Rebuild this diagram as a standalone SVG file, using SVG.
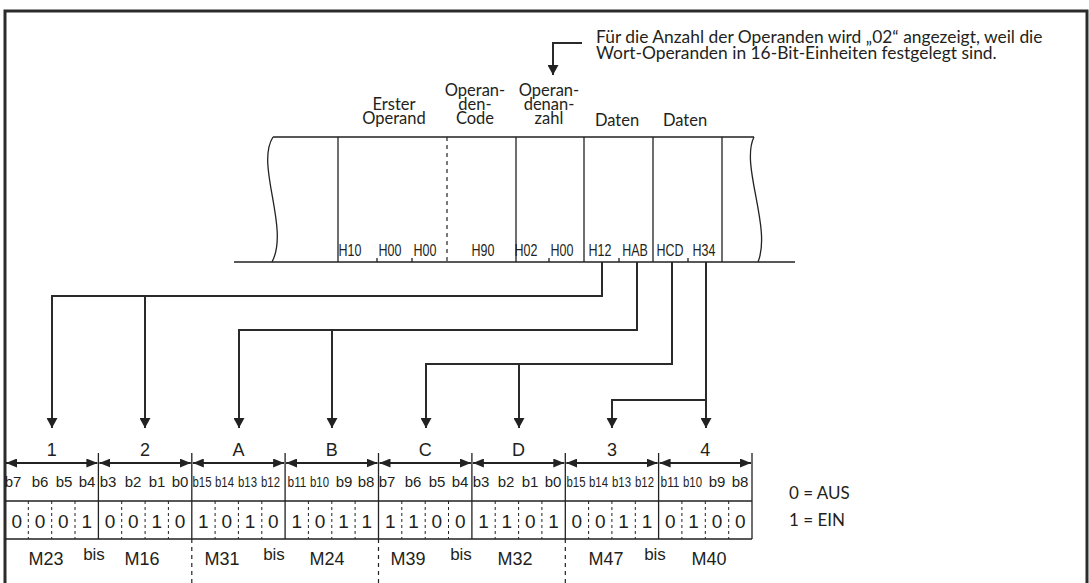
<svg xmlns="http://www.w3.org/2000/svg" width="1089" height="583" viewBox="0 0 1089 583">
<style>
.ln{fill:none;stroke:#222;stroke-width:1.3}
.cn{fill:none;stroke:#2a2a2a;stroke-width:2}
.dash{fill:none;stroke:#222;stroke-width:1.2;stroke-dasharray:4 4}
.my{font-family:Lato,"Open Sans","Liberation Sans",sans-serif;fill:#231f20}
.hv{font-family:"Liberation Sans",Arial,sans-serif;fill:#231f20}
.c{text-anchor:middle}
.h{font-size:16px}
.bit{font-size:15px}
.val{font-size:19px}
.seg{font-size:18px}
.m{font-size:18px}
</style>
<defs>
<marker id="ah" viewBox="0 0 10 10" refX="10" refY="5" markerWidth="10" markerHeight="11" markerUnits="userSpaceOnUse" orient="auto" preserveAspectRatio="none">
<path d="M0,0 L10,5 L0,10 z" fill="#222"/>
</marker>
<marker id="dh" viewBox="0 0 10 10" refX="10" refY="5" markerWidth="11" markerHeight="9" markerUnits="userSpaceOnUse" orient="auto-start-reverse" preserveAspectRatio="none">
<path d="M0,0 L10,5 L0,10 z" fill="#222"/>
</marker>
</defs>
<rect width="1089" height="583" fill="#fff"/>
<path d="M5,590 V11 H1087 V590" fill="none" stroke="#2b2b2b" stroke-width="3"/>

<g id="note">
<text class="my" x="596" y="43" font-size="17.4">Für die Anzahl der Operanden wird „02“ angezeigt, weil die</text>
<text class="my" x="596" y="59" font-size="17.4">Wort-Operanden in 16-Bit-Einheiten festgelegt sind.</text>
</g>

<g id="header">
<path class="ln" d="M273,137 H754 M234,262 H795"/>
<path class="ln" d="M273,137 C255,165 290,228 272,262"/>
<path class="ln" d="M754,137 C740,165 772,228 758,262"/>
<path class="ln" d="M338,137 V262 M516,137 V262 M584,137 V262 M653,137 V262 M722,137 V262"/>
<path class="dash" d="M447,137 V262"/>
<path class="ln" d="M377,262 V258 M412,262 V258 M549,262 V258 M619,262 V258 M688,262 V258"/>
<g class="my c" font-size="16.5">
<text x="394" y="110">Erster</text>
<text x="394" y="124">Operand</text>
<text x="475" y="96">Operan-</text>
<text x="475" y="110">den-</text>
<text x="475" y="124">Code</text>
<text x="549" y="96">Operan-</text>
<text x="549" y="110">denan-</text>
<text x="549" y="124">zahl</text>
<text x="617" y="126">Daten</text>
<text x="685" y="126">Daten</text>
</g>
<g class="hv h c">
<text transform="translate(350,256) scale(0.78,1)">H10</text>
<text transform="translate(390,256) scale(0.78,1)">H00</text>
<text transform="translate(425,256) scale(0.78,1)">H00</text>
<text transform="translate(483,256) scale(0.78,1)">H90</text>
<text transform="translate(526,256) scale(0.78,1)">H02</text>
<text transform="translate(562,256) scale(0.78,1)">H00</text>
<text transform="translate(600,256) scale(0.78,1)">H12</text>
<text transform="translate(635,256) scale(0.78,1)">HAB</text>
<text transform="translate(670,256) scale(0.78,1)">HCD</text>
<text transform="translate(704,256) scale(0.78,1)">H34</text>
</g>
</g>

<g id="connectors">
<path class="cn" d="M582,43 H553 V75" marker-end="url(#ah)"/>
<path class="cn" d="M602,262 V296 H52 V428" marker-end="url(#ah)"/>
<path class="cn" d="M145,296 V428" marker-end="url(#ah)"/>
<path class="cn" d="M637,262 V330 H239 V428" marker-end="url(#ah)"/>
<path class="cn" d="M332,330 V428" marker-end="url(#ah)"/>
<path class="cn" d="M672,262 V364 H426 V428" marker-end="url(#ah)"/>
<path class="cn" d="M519,364 V428" marker-end="url(#ah)"/>
<path class="cn" d="M706,262 V428" marker-end="url(#ah)"/>
<path class="cn" d="M706,400 H612 V428" marker-end="url(#ah)"/>
</g>

<g id="table">
<path class="ln" d="M5,501 H752 M5,539 H752"/>
<path class="ln" d="M98.4,453 V539 M191.8,453 V539 M285.1,453 V539 M378.5,453 V539 M471.9,453 V539 M565.3,453 V539 M658.6,453 V539 M752,453 V539"/>
<g stroke="#222" stroke-width="2" fill="none">
<path d="M6,463 H97.4" marker-start="url(#dh)" marker-end="url(#dh)"/>
<path d="M99.4,463 H190.8" marker-start="url(#dh)" marker-end="url(#dh)"/>
<path d="M192.8,463 H284.1" marker-start="url(#dh)" marker-end="url(#dh)"/>
<path d="M286.1,463 H377.5" marker-start="url(#dh)" marker-end="url(#dh)"/>
<path d="M379.5,463 H470.9" marker-start="url(#dh)" marker-end="url(#dh)"/>
<path d="M472.9,463 H564.3" marker-start="url(#dh)" marker-end="url(#dh)"/>
<path d="M566.3,463 H657.6" marker-start="url(#dh)" marker-end="url(#dh)"/>
<path d="M659.6,463 H751" marker-start="url(#dh)" marker-end="url(#dh)"/>
</g>
<path fill="none" stroke="#222" stroke-width="1" stroke-dasharray="3 3" d="M28.3,501 V539 M51.7,501 V539 M75,501 V539 M121.7,501 V539 M145.1,501 V539 M168.4,501 V539 M215.1,501 V539 M238.4,501 V539 M261.8,501 V539 M308.4,501 V539 M331.8,501 V539 M355.1,501 V539 M401.8,501 V539 M425.2,501 V539 M448.5,501 V539 M495.2,501 V539 M518.6,501 V539 M541.9,501 V539 M588.6,501 V539 M611.9,501 V539 M635.3,501 V539 M681.9,501 V539 M705.3,501 V539 M728.7,501 V539"/>
<path class="dash" d="M191.8,539 V583 M378.5,539 V583 M565.3,539 V583"/>
<g class="hv seg c">
<text x="51.7" y="456">1</text>
<text x="145.1" y="456">2</text>
<text x="238.4" y="456">A</text>
<text x="331.8" y="456">B</text>
<text x="425.2" y="456">C</text>
<text x="518.6" y="456">D</text>
<text x="611.9" y="456">3</text>
<text x="705.3" y="456">4</text>
</g>
<g class="hv bit c">
<text x="13" y="487">b7</text><text x="40" y="487">b6</text><text x="64" y="487">b5</text><text x="87" y="487">b4</text>
<text x="108" y="487">b3</text><text x="133" y="487">b2</text><text x="157" y="487">b1</text><text x="180" y="487">b0</text>
<text x="202" y="487" textLength="19" lengthAdjust="spacingAndGlyphs">b15</text><text x="224.5" y="487" textLength="19" lengthAdjust="spacingAndGlyphs">b14</text><text x="247.5" y="487" textLength="19" lengthAdjust="spacingAndGlyphs">b13</text><text x="270.5" y="487" textLength="19" lengthAdjust="spacingAndGlyphs">b12</text>
<text x="297" y="487" textLength="19" lengthAdjust="spacingAndGlyphs">b11</text><text x="319.5" y="487" textLength="19" lengthAdjust="spacingAndGlyphs">b10</text><text x="344" y="487">b9</text><text x="366" y="487">b8</text>
<text x="387" y="487">b7</text><text x="413" y="487">b6</text><text x="437" y="487">b5</text><text x="460" y="487">b4</text>
<text x="481" y="487">b3</text><text x="506" y="487">b2</text><text x="530" y="487">b1</text><text x="553" y="487">b0</text>
<text x="576" y="487" textLength="19" lengthAdjust="spacingAndGlyphs">b15</text><text x="598.5" y="487" textLength="19" lengthAdjust="spacingAndGlyphs">b14</text><text x="621.5" y="487" textLength="19" lengthAdjust="spacingAndGlyphs">b13</text><text x="644.5" y="487" textLength="19" lengthAdjust="spacingAndGlyphs">b12</text>
<text x="670" y="487" textLength="19" lengthAdjust="spacingAndGlyphs">b11</text><text x="692.5" y="487" textLength="19" lengthAdjust="spacingAndGlyphs">b10</text><text x="717" y="487">b9</text><text x="740" y="487">b8</text>
</g>
<g class="hv val c">
<text x="16.7" y="528">0</text><text x="40" y="528">0</text><text x="63.4" y="528">0</text><text x="86.7" y="528">1</text>
<text x="110" y="528">0</text><text x="133.4" y="528">0</text><text x="156.8" y="528">1</text><text x="180.1" y="528">0</text>
<text x="203.4" y="528">1</text><text x="226.8" y="528">0</text><text x="250.1" y="528">1</text><text x="273.4" y="528">0</text>
<text x="296.8" y="528">1</text><text x="320.1" y="528">0</text><text x="343.5" y="528">1</text><text x="366.8" y="528">1</text>
<text x="390.2" y="528">1</text><text x="413.5" y="528">1</text><text x="436.9" y="528">0</text><text x="460.2" y="528">0</text>
<text x="483.6" y="528">1</text><text x="506.9" y="528">1</text><text x="530.3" y="528">0</text><text x="553.6" y="528">1</text>
<text x="576.9" y="528">0</text><text x="600.3" y="528">0</text><text x="623.6" y="528">1</text><text x="647" y="528">1</text>
<text x="670.3" y="528">0</text><text x="693.6" y="528">1</text><text x="717" y="528">0</text><text x="740.3" y="528">0</text>
</g>
<g class="hv m c">
<text x="46" y="565">M23</text><text x="94" y="560" font-size="17">bis</text><text x="142" y="565">M16</text>
<text x="222" y="565">M31</text><text x="274" y="560" font-size="17">bis</text><text x="327" y="565">M24</text>
<text x="408" y="565">M39</text><text x="461" y="560" font-size="17">bis</text><text x="515" y="565">M32</text>
<text x="606" y="565">M47</text><text x="655" y="560" font-size="17">bis</text><text x="709" y="565">M40</text>
</g>
</g>

<g id="legend">
<text class="my" x="789" y="499" font-size="17">0 = AUS</text>
<text class="my" x="789" y="526" font-size="17">1 = EIN</text>
</g>
</svg>
